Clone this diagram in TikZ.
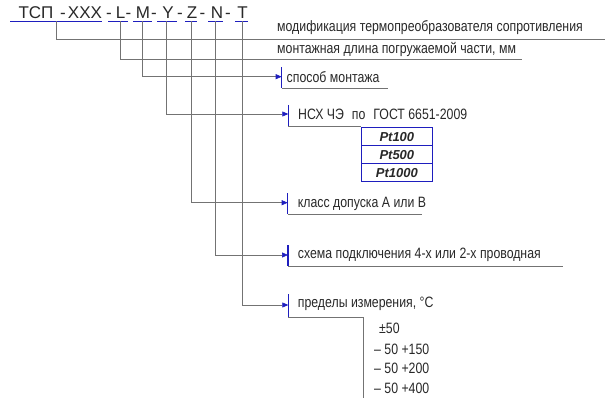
\documentclass[tikz,border=0pt]{standalone}
\usepackage{fontspec}
\setmainfont{Liberation Sans}
\newfontfamily\gost[FakeStretch=0.82]{Liberation Sans}
\usetikzlibrary{arrows.meta}
\definecolor{lineblue}{RGB}{30,30,190}
\definecolor{linegray}{RGB}{115,115,115}
\definecolor{txt}{RGB}{40,40,40}
\tikzset{
  ttl/.style={font=\fontsize{17}{17}\selectfont, text=txt, inner sep=0pt, anchor=base},
  lbl/.style={font=\gost\fontsize{15}{15}\selectfont, text=txt, inner sep=0pt, anchor=west},
  lead/.style={draw=linegray, line width=0.6pt},
  uline/.style={draw=lineblue, line width=0.9pt},
  tickmark/.style={draw=lineblue, line width=1.3pt},
  arr/.style={lead, -{Triangle[length=6pt,width=5pt,color=lineblue,fill=lineblue]}},
  ptcell/.style={font=\bfseries\itshape\fontsize{13}{13}\selectfont, text=txt,
    draw=lineblue, line width=0.9pt, minimum width=71.7pt, minimum height=18pt, inner sep=0pt},
}
\begin{document}
\begin{tikzpicture}[x=1pt,y=-1pt]
\useasboundingbox (0,0) rectangle (608,403);
% title
\node[ttl] (tsp) at (36,18.3) {ТСП};
\node[ttl] (d0) at (63,18.3) {-};
\node[ttl] (xxx) at (85,18.3) {XXX};
\node[ttl] (d1) at (109,18.3) {-};
\node[ttl] (pL) at (120.5,18.3) {L};
\node[ttl] (d2) at (128.5,18.3) {-};
\node[ttl] (pM) at (143,18.3) {M};
\node[ttl] (d3) at (154,18.3) {-};
\node[ttl] (pY) at (168,18.3) {Y};
\node[ttl] (d4) at (180,18.3) {-};
\node[ttl] (pZ) at (192,18.3) {Z};
\node[ttl] (d5) at (202.5,18.3) {-};
\node[ttl] (pN) at (217,18.3) {N};
\node[ttl] (d6) at (228,18.3) {-};
\node[ttl] (pT) at (242.5,18.3) {T};
% underlines
\draw[uline] (10,21) -- (102,21);
\draw[uline] (108,21) -- (128,21);
\draw[uline] (133,21) -- (152,21);
\draw[uline] (157,21) -- (177,21);
\draw[uline] (185,21) -- (197,21);
\draw[uline] (208,21) -- (223,21);
\draw[uline] (235,21) -- (248,21);
% lead start points
\coordinate (sA) at (56.5,21.5);
\coordinate (sL) at (120.7,21.5);
\coordinate (sM) at (142.7,21.5);
\coordinate (sY) at (166.7,21.5);
\coordinate (sZ) at (191,21.5);
\coordinate (sN) at (215.5,21.5);
\coordinate (sT) at (242.5,21.5);
% end points
\coordinate (eA) at (605,39.3);
\coordinate (eL) at (522,59.3);
\coordinate (tM) at (281.7,76.7);
\coordinate (tY) at (288.3,114);
\coordinate (tZ) at (287.7,202.7);
\coordinate (tN) at (288,255);
\coordinate (tT) at (288.3,305);
% leads
\draw[lead] (sA) |- (eA);
\draw[lead] (sL) |- (eL);
\draw[arr] (sM) |- (tM);
\draw[arr] (sY) |- (tY);
\draw[arr] (sZ) |- (tZ);
\draw[arr] (sN) |- (tN);
\draw[arr] (sT) |- (tT);
% ticks
\draw[tickmark] (281.7,67.5) -- (281.7,88.5);
\draw[tickmark] (288.3,105) -- (288.3,126.5);
\draw[tickmark] (287.7,193.5) -- (287.7,214.5);
\draw[tickmark] (288,245.5) -- (288,266.5);
\draw[tickmark] (288.3,294.5) -- (288.3,318);
% label underlines
\draw[lead] (281.7,88) -- (388,88);
\draw[lead] (288.3,126) -- (361,126);
\draw[lead] (287.7,214) -- (421.7,214);
\draw[lead] (288,266) -- (563,266);
\draw[lead] (288.3,317.7) -- (363.3,317.7) -- (363.3,398);
% labels
\node[lbl] (lA) at (277,28) {модификация термопреобразователя сопротивления};
\node[lbl] (lL) at (277,49) {монтажная длина погружаемой части, мм};
\node[lbl] (lM) at (286.5,77) {способ монтажа};
\node[lbl] (lY) at (298,114) {НСХ ЧЭ\hspace{8pt}по\hspace{8pt}ГОСТ 6651-2009};
\node[lbl] (lZ) at (297.7,204) {класс допуска А или В};
\node[lbl] (lN) at (297.7,255) {схема подключения 4-х или 2-х проводная};
\node[lbl] (lT) at (297.7,304) {пределы измерения, °С};
% table
\node[ptcell] (pt1) at (396.85,136.7) {Pt100};
\node[ptcell] (pt2) at (396.85,154.7) {Pt500};
\node[ptcell] (pt3) at (396.85,172.7) {Pt1000};
% ranges
\node[lbl] (r1) at (379,328) {±50};
\node[lbl] (r2) at (374,349) {– 50 +150};
\node[lbl] (r3) at (374,368) {– 50 +200};
\node[lbl] (r4) at (374,388) {– 50 +400};
\end{tikzpicture}
\end{document}
